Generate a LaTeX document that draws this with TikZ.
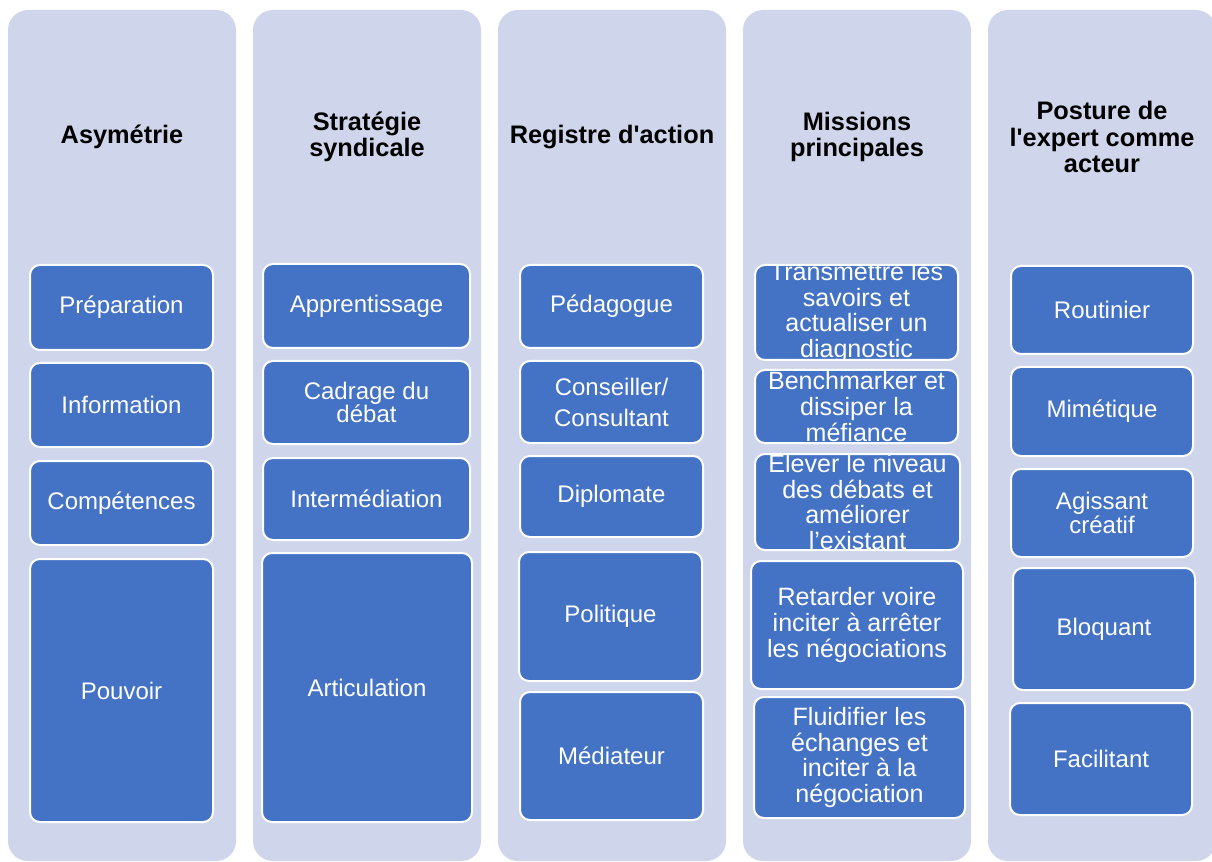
\documentclass[tikz,border=0pt]{standalone}
\usepackage{fontspec}
\setmainfont{Liberation Sans}
\newcommand\cell[7][]{\node[cell, #1, minimum width={(#5-#3)*0.75pt}, minimum height={(#6-#4)*0.75pt}] (#2) at ({(#3+#5)/2},{(#4+#6)/2}) {#7};}
\begin{document}
\begin{tikzpicture}[x=0.75pt, y=-0.75pt,
  column/.style={fill=colbg, draw=none, rounded corners=15pt},
  head/.style={font=\bfseries\fontsize{19}{20}\selectfont, align=center, text=black},
  cell/.style={fill=cellblue, draw=white, line width=1.5pt, rounded corners=7.5pt, text=white, font=\fontsize{18}{19.2}\selectfont, align=center, inner sep=0pt},
  mission/.style={font=\fontsize{18.8}{19.2}\selectfont},
  cut text/.style={path picture={\node[text=white, font=\fontsize{18.8}{19.2}\selectfont, align=center] at (path picture bounding box.center) {#1};}}]
\definecolor{colbg}{HTML}{CFD5EA}
\definecolor{cellblue}{HTML}{4472C4}
\useasboundingbox (0,0) rectangle (1212,862);
\pgfmathsetmacro\gap{245}
\foreach \n/\title in {1/{Asymétrie}, 2/{Stratégie\\syndicale}, 3/{Registre d\textquotesingle action}, 4/{Missions\\principales}, 5/{Posture de\\l\textquotesingle expert comme\\acteur}} {
  \draw[column] (8+\gap*\n-\gap,10) rectangle (236+\gap*\n-\gap,861);
  \node[head] (head\n) at (122+\gap*\n-\gap,137) {\title};
}
% Asymetrie
\cell{prep}{30}{265}{213}{350}{Préparation}
\cell{info}{30}{363}{213}{447}{Information}
\cell{comp}{30}{461}{213}{545}{Compétences}
\cell{pouv}{30}{559}{213}{822}{Pouvoir}
% strategie syndicale
\cell{appr}{263}{264}{470}{348}{Apprentissage}
\cell{cadr}{263}{361}{470}{444}{Cadrage du\\[-2pt]débat}
\cell{inter}{263}{458}{470}{540}{Intermédiation}
\cell{artic}{262}{553}{472}{822}{Articulation}
% registre d'action
\cell{peda}{520}{265}{703}{348}{Pédagogue}
\cell{cons}{520}{361}{703}{443}{Conseiller/\\[4pt]Consultant}
\cell{diplo}{520}{456}{703}{537}{Diplomate}
\cell{poli}{519}{552}{702}{681}{Politique}
\cell{medi}{520}{692}{703}{820}{Médiateur}
% missions principales
\cell[cut text={Transmettre les\\savoirs et\\actualiser un\\diagnostic}]{trans}{755}{265}{958}{360}{}
\cell[cut text={Benchmarker et\\dissiper la\\méfiance}]{bench}{755}{370}{958}{443}{}
\cell[cut text={Elever le niveau\\des débats et\\améliorer\\l’existant}]{elev}{755}{454}{960}{550}{}
\cell[mission]{retard}{751}{561}{963}{689}{Retarder voire\\inciter à arrêter\\les négociations}
\cell[mission]{fluid}{754}{697}{965}{818}{Fluidifier les\\échanges et\\inciter à la\\négociation}
% posture de l'expert
\cell{rout}{1011}{266}{1193}{354}{Routinier}
\cell{mime}{1011}{367}{1193}{456}{Mimétique}
\cell{agis}{1011}{469}{1193}{557}{Agissant\\[-1pt]créatif}
\cell{bloq}{1013}{568}{1195}{690}{Bloquant}
\cell{facil}{1010}{703}{1192}{815}{Facilitant}
\end{tikzpicture}
\end{document}
